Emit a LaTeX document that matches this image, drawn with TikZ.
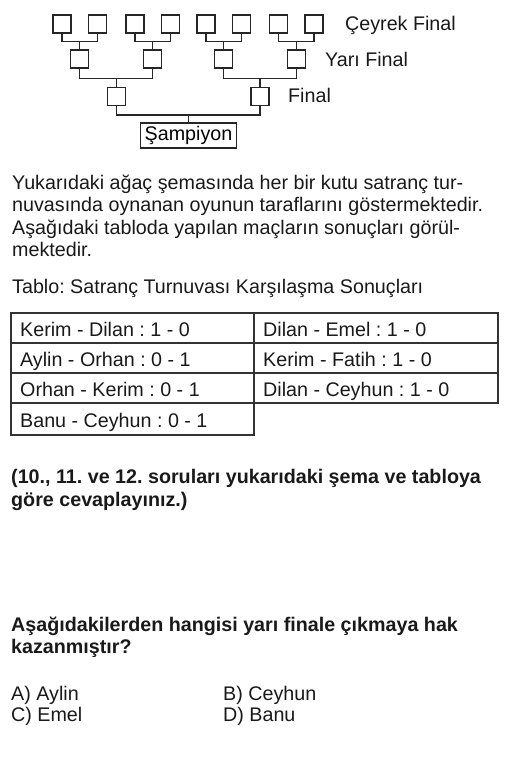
\documentclass[tikz,border=0pt]{standalone}
\usepackage{fontspec}
\setmainfont{Liberation Sans}
\frenchspacing
\begin{document}
\begin{tikzpicture}[x=1pt,y=-1pt,
  qbox/.style={draw=black!85,line width=1.4pt,minimum width=18pt,minimum height=18pt,inner sep=0pt},
  conn/.style={draw=black!85,line width=1.4pt},
  txt/.style={anchor=base west,inner sep=0pt,font=\fontsize{19.7}{22}\selectfont,text=black!90},
  btxt/.style={txt,font=\fontsize{19.7}{22}\selectfont\bfseries},
  cell/.style={draw=black!80,line width=1.8pt}]
\useasboundingbox (0,0) rectangle (522,758);
% quarter final boxes
\node[qbox] (q1) at (62,24) {};
\node[qbox] (q2) at (97.5,24) {};
\node[qbox] (q3) at (135,24) {};
\node[qbox] (q4) at (170.5,24) {};
\node[qbox] (q5) at (206,24) {};
\node[qbox] (q6) at (241.5,24) {};
\node[qbox] (q7) at (278.5,24) {};
\node[qbox] (q8) at (314,24) {};
% semi final boxes
\node[qbox] (s1) at (79.75,59) {};
\node[qbox] (s2) at (152.75,59) {};
\node[qbox] (s3) at (223.75,59) {};
\node[qbox] (s4) at (296.25,59) {};
% final boxes
\node[qbox] (f1) at (116.25,96.5) {};
\node[qbox] (f2) at (260,96.5) {};
% champion
\node[draw=black!85,line width=1.4pt,minimum width=96pt,minimum height=25pt,inner sep=0pt,font=\fontsize{19.7}{22}\selectfont] (ch) at (188.5,135.5) {Şampiyon};
% joints
\coordinate (j1) at (79.75,41.7);
\coordinate (j2) at (152.75,41.7);
\coordinate (j3) at (223.75,41.7);
\coordinate (j4) at (296.25,41.7);
\coordinate (k1) at (116.25,78.3);
\coordinate (k2) at (260,78.3);
\coordinate (m1) at (188.5,115);
\draw[conn] (q1.south) |- (j1) -| (q2.south); \draw[conn] (j1) -- (s1.north);
\draw[conn] (q3.south) |- (j2) -| (q4.south); \draw[conn] (j2) -- (s2.north);
\draw[conn] (q5.south) |- (j3) -| (q6.south); \draw[conn] (j3) -- (s3.north);
\draw[conn] (q7.south) |- (j4) -| (q8.south); \draw[conn] (j4) -- (s4.north);
\draw[conn] (s1.south) |- (k1) -| (s2.south); \draw[conn] (k1) -- (f1.north);
\draw[conn] (s3.south) |- (k2) -| (s4.south); \draw[conn] (k2) -- (f2.north);
\draw[conn] (f1.south) |- (m1) -| (f2.south); \draw[conn] (m1) -- (ch.north);
% level labels
\node[txt] (l1) at (345,30.7) {Çeyrek Final};
\node[txt] (l2) at (325,66.7) {Yarı Final};
\node[txt] (l3) at (288,102.7) {Final};
% paragraph
\node[txt] (p1) at (12,189) {Yukarıdaki ağaç şemasında her bir kutu satranç tur-};
\node[txt] (p2) at (12,211.5) {nuvasında oynanan oyunun taraflarını göstermektedir.};
\node[txt] (p3) at (12,234) {Aşağıdaki tabloda yapılan maçların sonuçları görül-};
\node[txt] (p4) at (12,256.5) {mektedir.};
\node[txt] (p5) at (12,293) {Tablo: Satranç Turnuvası Karşılaşma Sonuçları};
% table
\draw[cell] (11,312.7) rectangle (254.3,342.7);
\draw[cell] (254.3,312.7) rectangle (497.7,342.7);
\draw[cell] (11,342.7) rectangle (254.3,372.7);
\draw[cell] (254.3,342.7) rectangle (497.7,372.7);
\draw[cell] (11,372.7) rectangle (254.3,403.3);
\draw[cell] (254.3,372.7) rectangle (497.7,403.3);
\draw[cell] (11,403.3) rectangle (254.3,435);
\node[txt] (t1) at (20,336) {Kerim - Dilan : 1 - 0};
\node[txt] (t2) at (263,336) {Dilan - Emel : 1 - 0};
\node[txt] (t3) at (20,366) {Aylin - Orhan : 0 - 1};
\node[txt] (t4) at (263,366) {Kerim - Fatih : 1 - 0};
\node[txt] (t5) at (20,396) {Orhan - Kerim : 0 - 1};
\node[txt] (t6) at (263,396) {Dilan - Ceyhun : 1 - 0};
\node[txt] (t7) at (20,427) {Banu - Ceyhun : 0 - 1};
% bold note
\node[btxt] (b1) at (11,483) {(10., 11. ve 12. soruları yukarıdaki şema ve tabloya};
\node[btxt] (b2) at (11,506.7) {göre cevaplayınız.)};
% question
\node[btxt] (qq1) at (11,631.7) {Aşağıdakilerden hangisi yarı finale çıkmaya hak};
\node[btxt] (qq2) at (11,653) {kazanmıştır?};
\node[txt] (oa) at (11,700.7) {A) Aylin};
\node[txt] (ob) at (223,700.7) {B) Ceyhun};
\node[txt] (oc) at (11,721.7) {C) Emel};
\node[txt] (od) at (223,721.7) {D) Banu};
\end{tikzpicture}
\end{document}
